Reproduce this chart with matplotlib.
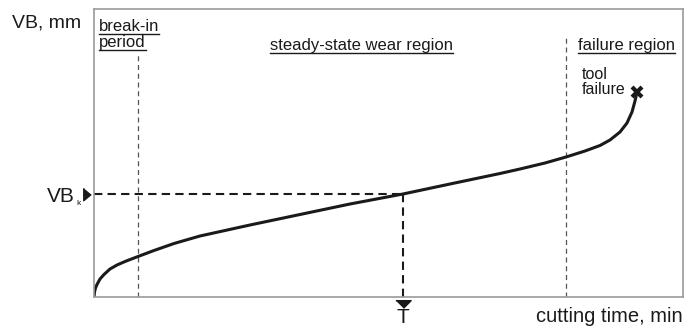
import matplotlib
matplotlib.use("Agg")
import matplotlib.pyplot as plt
from matplotlib.lines import Line2D

plt.rcParams['font.family'] = ['Liberation Sans', 'DejaVu Sans']

# wear curve (axis units ~ pixels of the original sketch)
time = [0, 0.5, 1.5, 3, 6, 10, 16, 23, 31, 44, 60, 80, 106, 156, 206,
        256, 309, 356, 406, 426, 451, 472, 491, 506, 516, 526, 533, 538, 541, 543]
wear = [0, 5, 9, 12.5, 18, 22.5, 28, 32, 35.5, 40.5, 46.5, 53.5, 61, 72, 82.5,
        93, 103, 113, 123.5, 128, 134, 140, 146, 151.5, 157, 165, 174, 185, 196, 205]

break_in_end = 44
failure_start = 472
T_life = 309
VB_k = 103
XMAX, YMAX = 589, 288

FIGW, FIGH = 6.84, 3.27

fig = plt.figure(figsize=(FIGW, FIGH), dpi=100)
ax = fig.add_axes([94 / 684, 30 / 327, 589 / 684, 288 / 327])
ax.set_xlim(0, XMAX)
ax.set_ylim(0, YMAX)
ax.set_xticks([])
ax.set_yticks([])
for s in ax.spines.values():
    s.set_color('#9a9a9a')
    s.set_linewidth(1.2)

# region boundaries
ax.plot([break_in_end] * 2, [0, 245], color='#555555', lw=0.9, ls=(0, (4, 3)))
ax.plot([failure_start] * 2, [0, 260], color='#555555', lw=0.9, ls=(0, (4, 3)))

# VB_k / T guide lines
ax.plot([0, T_life], [VB_k, VB_k], color='#1a1a1a', lw=1.5, ls=(0, (4, 2.5)))
ax.plot([T_life, T_life], [0, VB_k], color='#1a1a1a', lw=1.5, ls=(0, (4, 2.5)))

# wear curve + failure mark
ax.plot(time, wear, color='#1a1a1a', lw=2.2, solid_capstyle='round')
ax.plot(time[-1], wear[-1], marker='x', ms=7, mew=3, color='#1a1a1a')

# arrow heads outside the axes
ax.plot(-7.5, VB_k, marker=[(-0.6, 1), (-0.6, -1), (0.6, 0)], ms=9,
        color='#1a1a1a', clip_on=False, lw=0)
ax.plot(T_life, -6.5, marker=[(-1, 0.5), (1, 0.5), (0, -0.5)], ms=11,
        color='#1a1a1a', clip_on=False, lw=0)

# texts
kw = dict(color='#1a1a1a', clip_on=False)
ax.text(-82, 270, 'VB, mm', fontsize=14, ha='left', va='baseline', **kw)
ax.text(XMAX, -25, 'cutting time, min', fontsize=14.5, ha='right', va='baseline', **kw)
ax.text(T_life, -30, 'T', fontsize=15, ha='center', va='bottom', **kw)
ax.text(-19, 95, 'VB', fontsize=15, ha='right', va='baseline', **kw)
ax.text(-18, 92, 'k', fontsize=6, ha='left', va='baseline', **kw)
ax.text(488, 218, 'tool', fontsize=11.5, ha='left', va='baseline', **kw)
ax.text(488, 203, 'failure', fontsize=11.5, ha='left', va='baseline', **kw)

labels = [
    ax.text(5, 266, 'break-in', fontsize=12, ha='left', va='baseline', **kw),
    ax.text(5, 250, 'period', fontsize=12, ha='left', va='baseline', **kw),
    ax.text(267, 247, 'steady-state wear region', fontsize=12, ha='center', va='baseline', **kw),
    ax.text(484, 247, 'failure region', fontsize=12, ha='left', va='baseline', **kw),
]

# underline the region labels
fig.canvas.draw()
inv = ax.transData.inverted()
for t in labels:
    bb = t.get_window_extent()
    x0, _ = inv.transform((bb.x0, bb.y0))
    x1, _ = inv.transform((bb.x1, bb.y0))
    y = t.get_position()[1] - 2.5
    ax.add_line(Line2D([x0, x1], [y, y], color='#1a1a1a', lw=1.0, clip_on=False))

fig.savefig('out.png', dpi=100)
